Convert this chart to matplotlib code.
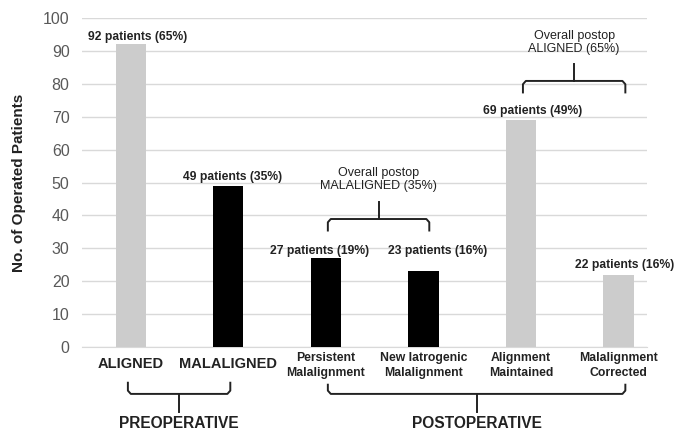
import numpy as np
import matplotlib.pyplot as plt

plt.rcParams['font.family'] = ['Liberation Sans', 'DejaVu Sans']

# patient counts per group (141 operated in total)
categories = ['ALIGNED', 'MALALIGNED', 'Persistent\nMalalignment',
              'New Iatrogenic\nMalalignment', 'Alignment\nMaintained',
              'Malalignment\nCorrected']
counts = [92, 49, 27, 23, 69, 22]
percents = [65, 35, 19, 16, 49, 16]
aligned = [True, False, False, False, True, True]

grey = '#cccccc'
dark = '#222222'

fig = plt.figure(figsize=(6.78, 4.32), dpi=100)
ax = fig.add_axes([0.121, 0.197, 0.833, 0.761])

x = np.arange(len(categories))
colors = [grey if a else 'black' for a in aligned]
ax.bar(x, counts, width=0.31, color=colors, zorder=3)

ax.set_ylim(0, 100)
ax.set_xlim(-0.5, 5.29)
ax.set_yticks(np.arange(0, 101, 10))
ax.tick_params(axis='y', length=0, labelsize=11.5, labelcolor='#595959', pad=9)
ax.tick_params(axis='x', length=0)
ax.set_xticks([])
ax.grid(axis='y', color='#d9d9d9', linewidth=1, zorder=0)
for s in ['top', 'right', 'left']:
    ax.spines[s].set_visible(False)
ax.spines['bottom'].set_color('#d9d9d9')
ax.set_ylabel('No. of Operated Patients', fontsize=11, fontweight='bold',
              color=dark, labelpad=12)

# value labels above the bars
label_lift = [2.2, 2.7, 2.2, 6.2, 2.9, 3.0]
label_dx = [0.07, 0.04, -0.07, 0.15, 0.12, 0.06]
for i, (c, p) in enumerate(zip(counts, percents)):
    ax.text(i + label_dx[i], c + label_lift[i], f'{c} patients ({p}%)',
            ha='center', va='center', fontsize=8.7, fontweight='bold',
            color=dark)

# category names under the axis
for i, name in enumerate(categories):
    if '\n' in name:
        ax.text(i, -5.6, name, ha='center', va='center', fontsize=8.8,
                fontweight='bold', color=dark, linespacing=1.35, clip_on=False)
    else:
        ax.text(i, -5.2, name, ha='center', va='center', fontsize=10.5,
                fontweight='bold', color=dark, clip_on=False)


def brace(x0, x1, y_line, y_end, y_tip, r=0.03):
    # curly-ish bracket: end hooks, flat bar, centre tick
    xm = (x0 + x1) / 2
    sgn = np.sign(y_end - y_line)
    dy = 1.0 * sgn
    xs = [x0, x0, x0 + r, x1 - r, x1, x1]
    ys = [y_end, y_line + dy, y_line, y_line, y_line + dy, y_end]
    ax.plot(xs, ys, color=dark, linewidth=1.4, clip_on=False,
            solid_joinstyle='round', zorder=4)
    ax.plot([xm, xm], [y_line, y_tip], color=dark, linewidth=1.4,
            clip_on=False, zorder=4)
    return xm


# postop groupings above the bars
xm = brace(2.02, 3.06, 38.9, 35.4, 44.0)
ax.text(xm, 50.8, 'Overall postop\nMALALIGNED (35%)', ha='center',
        va='center', fontsize=9, color=dark, linespacing=1.1)
xm = brace(4.02, 5.07, 80.9, 77.4, 86.0)
ax.text(xm, 92.5, 'Overall postop\nALIGNED (65%)', ha='center',
        va='center', fontsize=9, color=dark, linespacing=1.1)

# pre/post groupings below the axis
xm = brace(-0.03, 1.02, -14.3, -10.9, -19.8)
ax.text(xm, -23.3, 'PREOPERATIVE', ha='center', va='center', fontsize=11.2,
        fontweight='bold', color=dark, clip_on=False)
xm = brace(2.02, 5.07, -14.3, -11.5, -19.8)
ax.text(xm, -23.3, 'POSTOPERATIVE', ha='center', va='center', fontsize=11.2,
        fontweight='bold', color=dark, clip_on=False)

fig.savefig('out.png', dpi=100)
